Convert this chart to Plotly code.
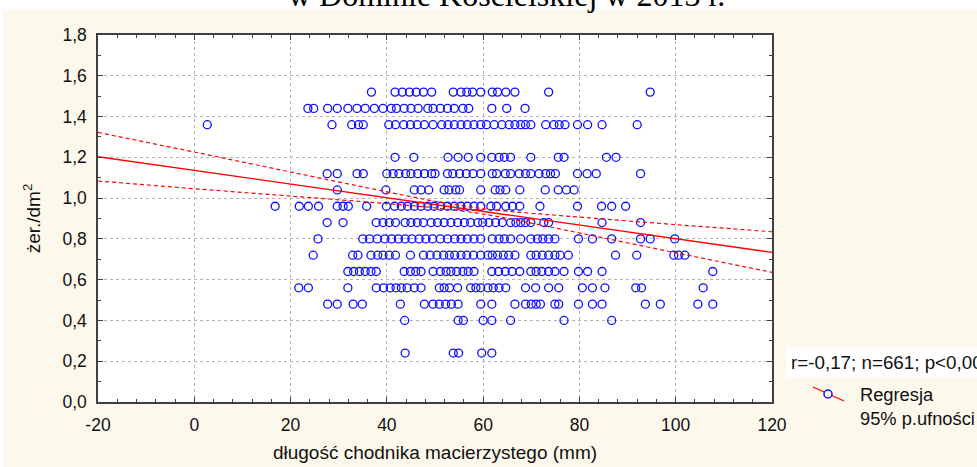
import plotly.graph_objects as go

# ---------------- data ----------------
# y levels (żer./dm2) and the x positions (mm) of the points on each level
x_152 = [36.8, 41.7, 43.2, 44.7, 46.1, 47.6, 49.3, 53.8, 55.4, 56.6, 57.8, 59.5,
         61.9, 63.0, 64.7, 66.6, 73.6, 94.7]
x_144 = [23.6, 24.8, 27.7, 29.7, 31.9, 33.8, 35.5, 37.4, 39.2, 40.9, 42.0, 43.6,
         45.0, 46.5, 48.5, 49.6, 51.1, 52.6, 54.0, 55.8, 57.0, 61.8, 64.9, 68.7]
x_136 = [2.7, 28.6, 32.7, 34.1, 35.1, 40.4, 41.8, 43.5, 44.9, 46.3, 47.8, 49.6,
         51.4, 52.7, 54.0, 55.4, 56.7, 58.1, 59.5, 60.7, 62.3, 63.9, 65.4, 66.6,
         67.8, 68.8, 69.9, 73.0, 74.7, 75.8, 77.0, 79.6, 81.7, 84.7, 92.0]
x_120 = [41.7, 45.6, 52.7, 54.8, 56.9, 59.5, 61.8, 63.3, 64.4, 65.7, 69.9, 75.6,
         76.8, 85.6, 87.6]
x_112 = [27.6, 29.7, 33.8, 35.1, 40.0, 41.3, 42.5, 43.9, 45.0, 46.4, 47.8, 49.3,
         50.0, 52.6, 53.7, 55.1, 56.5, 57.9, 59.5, 61.9, 62.8, 64.6, 65.7, 67.5,
         68.8, 69.9, 71.6, 73.0, 74.0, 75.0, 79.6, 81.6, 83.5, 92.7]
x_104 = [29.7, 39.8, 45.7, 47.1, 48.7, 51.9, 52.9, 54.3, 55.1, 59.5, 62.5, 63.5,
         64.7, 67.6, 72.9, 75.6, 77.3, 78.9]
x_096 = [16.8, 21.8, 23.7, 25.8, 29.7, 30.9, 32.0, 35.8, 39.9, 41.6, 43.0, 44.3,
         45.7, 47.1, 48.5, 49.8, 51.2, 52.6, 54.0, 55.4, 56.7, 58.1, 59.5, 61.6,
         62.8, 64.7, 66.1, 67.6, 71.8, 79.6, 84.6, 86.7, 89.6]
x_088 = [27.6, 30.9, 37.8, 39.2, 40.5, 41.8, 43.8, 45.0, 46.3, 47.6, 49.2, 50.5,
         51.9, 53.3, 54.7, 56.1, 57.4, 58.9, 59.9, 61.2, 62.6, 64.0, 65.7, 66.8,
         67.8, 68.8, 69.9, 72.6, 73.6, 84.7, 92.7]
x_080 = [25.7, 35.0, 36.4, 38.0, 39.6, 41.0, 42.4, 43.8, 45.2, 46.7, 48.1, 49.5,
         51.1, 52.6, 54.1, 55.4, 56.7, 58.1, 59.5, 61.9, 63.3, 64.4, 65.7, 67.8,
         69.9, 71.3, 72.4, 73.6, 74.9, 79.8, 82.7, 86.7, 92.7, 94.7, 99.8]
x_072 = [24.7, 32.9, 34.0, 36.7, 38.1, 39.2, 40.5, 41.8, 44.9, 47.6, 49.0, 50.4,
         51.8, 53.0, 54.1, 55.4, 56.6, 58.0, 59.5, 61.0, 61.9, 63.0, 64.2, 65.3,
         66.6, 69.9, 71.0, 72.3, 73.6, 74.9, 76.0, 77.7, 87.5, 91.9, 99.6, 100.6,
         101.9]
x_064 = [31.9, 33.1, 34.3, 35.5, 36.7, 37.8, 43.6, 44.9, 46.0, 47.1, 49.6, 51.1,
         52.3, 53.3, 54.5, 55.8, 56.9, 58.1, 61.8, 63.2, 64.6, 66.0, 67.6, 69.9,
         71.0, 72.2, 73.6, 74.9, 76.8, 79.8, 81.7, 84.7, 107.7]
x_056 = [21.7, 23.7, 31.9, 37.8, 39.3, 40.7, 41.9, 43.0, 44.2, 45.7, 47.1, 50.9,
         51.9, 53.0, 54.7, 57.4, 58.5, 59.5, 61.0, 62.1, 63.3, 64.7, 68.8, 70.9,
         73.6, 75.7, 80.6, 82.7, 85.3, 91.7, 92.9, 105.7]
x_048 = [27.7, 29.7, 33.0, 34.9, 42.8, 47.8, 49.6, 50.9, 52.2, 53.4, 54.8, 59.5,
         61.8, 66.6, 68.8, 70.0, 71.0, 71.9, 74.9, 75.7, 79.8, 82.7, 84.7, 93.7,
         96.8, 104.6, 107.7]
x_040 = [43.7, 54.8, 55.9, 60.0, 61.8, 65.7, 76.8, 86.7]
x_024 = [43.8, 53.8, 54.9, 59.7, 61.8]

levels = [1.52, 1.44, 1.36, 1.20, 1.12, 1.04, 0.96, 0.88, 0.80, 0.72, 0.64,
          0.56, 0.48, 0.40, 0.24]
rows = [x_152, x_144, x_136, x_120, x_112, x_104, x_096, x_088, x_080, x_072,
        x_064, x_056, x_048, x_040, x_024]

# regression line and 95% confidence band, read at the grid x positions
fit_x = [-20, 0, 20, 40, 50, 60, 70, 80, 100, 120]
fit_y = [1.203, 1.136, 1.069, 1.002, 0.9685, 0.935, 0.9015, 0.868, 0.801, 0.734]
ci_upper = [1.322, 1.226, 1.128, 1.031, 0.9845, 0.948, 0.9257, 0.907, 0.870, 0.835]
ci_lower = [1.084, 1.046, 1.010, 0.973, 0.9525, 0.922, 0.8773, 0.829, 0.732, 0.636]

x_tickvals = [-20, 0, 20, 40, 60, 80, 100, 120]
x_ticktext = ["-20", "0", "20", "40", "60", "80", "100", "120"]
y_tickvals = [0.0, 0.2, 0.4, 0.6, 0.8, 1.0, 1.2, 1.4, 1.6, 1.8]
y_ticktext = ["0,0", "0,2", "0,4", "0,6", "0,8", "1,0", "1,2", "1,4", "1,6", "1,8"]

title_text = "w Dominie Kościelskiej w 2013 r."
x_title = "długość chodnika macierzystego (mm)"
y_title = "żer./dm<sup>2</sup>"
stats_text = "r=-0,17; n=661; p<0,0000"
legend_lines = ["Regresja", "95% p.ufności"]

# ---------------- figure ----------------
px_all, py_all = [], []
for lv, xs in zip(levels, rows):
    px_all += xs
    py_all += [lv] * len(xs)

FONT = "Arial, 'Liberation Sans', sans-serif"
RED = "#FF0000"
BLUE = "#1010FF"
CREAM = "#FDF8EC"
TXT = "#111111"

fig = go.Figure()
fig.add_trace(go.Scatter(x=px_all, y=py_all, mode="markers",
                         marker=dict(symbol="circle-open", size=8, color=BLUE,
                                     line=dict(width=1.3, color=BLUE)),
                         showlegend=False, cliponaxis=True))
fig.add_trace(go.Scatter(x=fit_x, y=ci_upper, mode="lines", line_shape="spline",
                         line=dict(color=RED, width=1.2, dash="4px,3px"), showlegend=False))
fig.add_trace(go.Scatter(x=fit_x, y=ci_lower, mode="lines", line_shape="spline",
                         line=dict(color=RED, width=1.2, dash="4px,3px"), showlegend=False))
fig.add_trace(go.Scatter(x=fit_x, y=fit_y, mode="lines",
                         line=dict(color=RED, width=1.4), showlegend=False))

axis_common = dict(showline=True, linecolor="#404040", linewidth=1.5, mirror="allticks",
                   ticks="inside", ticklen=5, tickcolor="#404040", tickwidth=1.2,
                   showgrid=True, gridcolor="#b4b4b4", griddash="dot", gridwidth=1,
                   zeroline=False, tickfont=dict(family=FONT, size=17.5, color=TXT),
                   automargin=False, ticklabelstandoff=6)

fig.update_xaxes(range=[-20, 120], tickmode="array", tickvals=x_tickvals, ticktext=x_ticktext,
                 minor=dict(ticks="inside", tick0=-20, dtick=4, ticklen=3,
                            tickcolor="#404040", showgrid=False),
                 title=dict(text=x_title, font=dict(family=FONT, size=19, color=TXT),
                            standoff=12),
                 **axis_common)
fig.update_yaxes(range=[0, 1.8], tickmode="array", tickvals=y_tickvals, ticktext=y_ticktext,
                 minor=dict(ticks="inside", tick0=0, dtick=0.1, ticklen=3,
                            tickcolor="#404040", showgrid=False),
                 title=dict(text=y_title, font=dict(family=FONT, size=19, color=TXT),
                            standoff=17),
                 **axis_common)

W, H = 977, 467
L, R, T, B = 98, 205, 35, 65
pw, ph = W - L - R, H - T - B


def pxx(p):  # pixel x -> paper x
    return (p - L) / pw


def pxy(p):  # pixel y -> paper y
    return 1 - (p - T) / ph


shapes = [
    # white strips at the top and the left edge of the image
    dict(type="rect", xref="paper", yref="paper", x0=pxx(-5), x1=pxx(W + 5),
         y0=pxy(10), y1=pxy(-5), fillcolor="white", line_width=0, layer="below"),
    dict(type="rect", xref="paper", yref="paper", x0=pxx(-5), x1=pxx(3),
         y0=pxy(H + 5), y1=pxy(-5), fillcolor="white", line_width=0, layer="below"),
    # legend glyph
    dict(type="line", xref="paper", yref="paper", x0=pxx(813), y0=pxy(387),
         x1=pxx(844), y1=pxy(401), line=dict(color=RED, width=1.3)),
    dict(type="circle", xref="paper", yref="paper", x0=pxx(824), x1=pxx(832),
         y0=pxy(398), y1=pxy(390), fillcolor=CREAM, line=dict(color=BLUE, width=1.5)),
]

annotations = [
    dict(text=title_text, xref="paper", yref="paper", x=pxx(506), y=pxy(15),
         xanchor="center", yanchor="bottom", showarrow=False,
         font=dict(family="'Liberation Serif', 'Times New Roman', serif", size=32, color="black")),
    dict(text=stats_text, xref="paper", yref="paper", x=pxx(786), y=pxy(362),
         xanchor="left", yanchor="middle", showarrow=False, bgcolor="white", borderpad=4,
         font=dict(family=FONT, size=18.8, color=TXT)),
    dict(text=legend_lines[0], xref="paper", yref="paper", x=pxx(858), y=pxy(394),
         xanchor="left", yanchor="middle", showarrow=False,
         font=dict(family=FONT, size=18.3, color=TXT)),
    dict(text=legend_lines[1], xref="paper", yref="paper", x=pxx(858), y=pxy(418),
         xanchor="left", yanchor="middle", showarrow=False,
         font=dict(family=FONT, size=18.3, color=TXT)),
]

fig.update_layout(width=W, height=H, margin=dict(l=L, r=R, t=T, b=B, pad=0),
                  paper_bgcolor=CREAM, plot_bgcolor="white",
                  shapes=shapes, annotations=annotations, showlegend=False,
                  font=dict(family=FONT))

fig.write_html("out.html")
